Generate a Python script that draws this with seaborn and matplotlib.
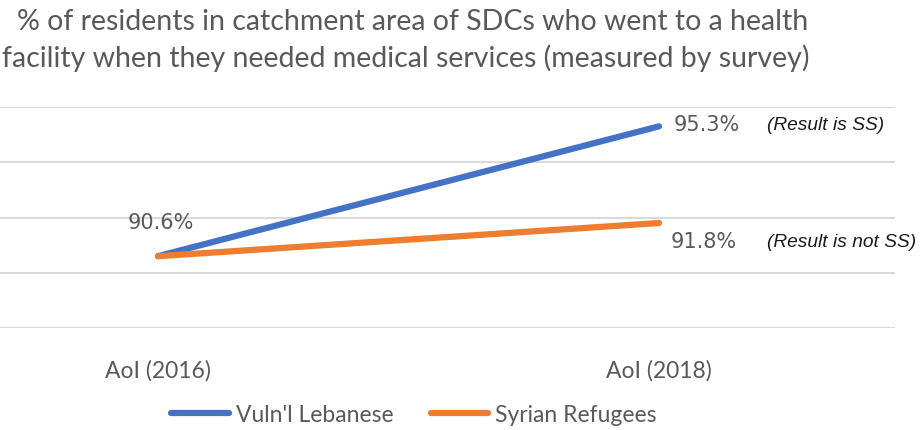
import matplotlib
matplotlib.use("Agg")
import matplotlib.pyplot as plt
import seaborn as sns
import pandas as pd
from matplotlib import font_manager

# Survey results
periods = ["AoI (2016)", "AoI (2018)"]
lebanese = [90.6, 95.3]
refugees = [90.6, 91.8]
series_names = ["Vuln'l Lebanese", "Syrian Refugees"]
notes = ["(Result is SS)", "(Result is not SS)"]
title_lines = ["% of residents in catchment area of SDCs who went to a health",
               "facility when they needed medical services (measured by survey)"]

df = pd.DataFrame({
    "period": periods * 2,
    "value": lebanese + refugees,
    "series": [series_names[0]] * 2 + [series_names[1]] * 2,
})

sns.set_theme(style="white")
available = {f.name for f in font_manager.fontManager.ttflist}
main_font = "Lato" if "Lato" in available else "DejaVu Sans"
narrow_font = "Liberation Sans Narrow" if "Liberation Sans Narrow" in available else "Liberation Sans"
note_size = 15 if narrow_font == "Liberation Sans Narrow" else 13.8
plt.rcParams["font.family"] = [main_font, "DejaVu Sans"]

W, H = 922, 430
fig = plt.figure(figsize=(W / 100, H / 100), dpi=100)
ax = fig.add_axes([0, (H - 328) / H, 895 / W, (328 - 107) / H])

palette = {series_names[0]: "#4472C4", series_names[1]: "#ED7D31"}
sns.lineplot(data=df, x="period", y="value", hue="series", palette=palette,
             sort=False, linewidth=4.5, ax=ax, legend=False)
for ln in ax.get_lines():
    ln.set_solid_capstyle("round")

ax.set_ylim(88, 96)
ax.set_yticks([88, 90, 92, 94, 96])
ax.set_xlim(-158 / 501, (895 - 158) / 501)
ax.grid(axis="y", color="#D9D9D9", linewidth=1.5)
ax.set_axisbelow(True)
for s in ax.spines.values():
    s.set_visible(False)
ax.tick_params(axis="y", left=False, labelleft=False)
ax.tick_params(axis="x", bottom=False, pad=17, labelsize=16.5, labelcolor="#595959")
ax.set_xlabel("")
ax.set_ylabel("")

label_kw = dict(textcoords="offset pixels", fontsize=15, color="#595959",
                family=["DejaVu Sans"], ha="center", va="center")
ax.annotate(f"{lebanese[0]:.1f}%", (0, lebanese[0]), xytext=(3, 33), **label_kw)
ax.annotate(f"{lebanese[1]:.1f}%", (1, lebanese[1]), xytext=(48, 1), **label_kw)
ax.annotate(f"{refugees[1]:.1f}%", (1, refugees[1]), xytext=(45, -19), **label_kw)

note_kw = dict(textcoords="offset pixels", fontsize=note_size, color="#1a1a1a",
               family=[narrow_font], style="italic", ha="left", va="center")
ax.annotate(notes[0], (1, lebanese[1]), xytext=(108, 1), **note_kw)
ax.annotate(notes[1], (1, refugees[1]), xytext=(108, -19), **note_kw)

fig.text(413 / W, 1 - 22 / H, title_lines[0], ha="center", va="center",
         fontsize=20.5, color="#595959")
fig.text(406 / W, 1 - 58 / H, title_lines[1], ha="center", va="center",
         fontsize=20.5, color="#595959")

handles = [plt.Line2D([], [], color=palette[n], linewidth=4.5, solid_capstyle="round")
           for n in series_names]
fig.legend(handles, series_names, loc="center", bbox_to_anchor=(414 / W, 1 - 415 / H),
           ncol=2, frameon=False, fontsize=16.5, labelcolor="#595959",
           handlelength=2.5, handletextpad=0.3, columnspacing=1.65)

fig.savefig("out.png", dpi=100)
